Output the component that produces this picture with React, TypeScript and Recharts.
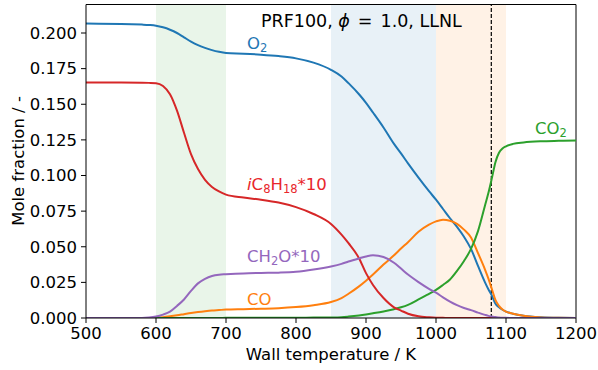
import { ComposedChart, Line, XAxis, YAxis, ReferenceArea, ReferenceLine } from "recharts"

// wall temperature grid, K
const temperature = [
  500, 550, 580, 590, 600, 610, 620, 630, 640, 650, 660, 670, 680, 690, 700, 725, 750, 775, 800, 825, 850, 865,
  875, 890, 900, 910, 925, 940, 950, 960, 975, 990, 1000, 1010, 1020, 1030, 1040, 1050, 1060, 1070, 1075, 1080,
  1085, 1090, 1095, 1100, 1110, 1125, 1150, 1175, 1200,
]

const o2 = [
  0.2066, 0.2064, 0.2059, 0.2056, 0.2051, 0.204, 0.2023, 0.2, 0.197, 0.194, 0.1915, 0.1896, 0.188, 0.1868, 0.186,
  0.1855, 0.1848, 0.1838, 0.1822, 0.1792, 0.1742, 0.1695, 0.1648, 0.157, 0.151, 0.1442, 0.1337, 0.1222, 0.1155,
  0.1085, 0.0985, 0.089, 0.083, 0.0765, 0.07, 0.064, 0.057, 0.0485, 0.0365, 0.025, 0.02, 0.0155, 0.01, 0.0075,
  0.0058, 0.0045, 0.003, 0.0016, 0.0005, 0.0001, 0,
]

const co = [
  0, 0, 0, 0, 0.0002, 0.0006, 0.0012, 0.0019, 0.0027, 0.0035, 0.0042, 0.0048, 0.0053, 0.0056, 0.0059, 0.0062,
  0.0065, 0.0069, 0.0077, 0.009, 0.0112, 0.014, 0.017, 0.0222, 0.0262, 0.0305, 0.0375, 0.044, 0.0487, 0.0532,
  0.0605, 0.0655, 0.0678, 0.069, 0.0682, 0.066, 0.062, 0.0565, 0.0455, 0.034, 0.0275, 0.02, 0.0125, 0.0085, 0.006,
  0.0045, 0.003, 0.0015, 0.0004, 0.0001, 0,
]

const co2 = [
  0, 0, 0, 0, 0, 0, 0, 0, 0, 0, 0, 0, 0, 0, 0.0001, 0.0001, 0.0001, 0.0002, 0.0002, 0.0003, 0.0004, 0.0006, 0.001,
  0.0018, 0.0025, 0.0033, 0.0046, 0.0062, 0.0075, 0.0092, 0.013, 0.017, 0.0197, 0.0232, 0.027, 0.033, 0.04,
  0.0485, 0.061, 0.079, 0.088, 0.0985, 0.1095, 0.116, 0.119, 0.1205, 0.1222, 0.1232, 0.124, 0.1243, 0.1245,
]

// iC8H18 x 10
const ic8h18 = [
  0.1652, 0.1652, 0.1651, 0.165, 0.1648, 0.1628, 0.157, 0.1455, 0.13, 0.115, 0.1045, 0.097, 0.092, 0.0888, 0.0866,
  0.0845, 0.083, 0.081, 0.0778, 0.073, 0.066, 0.0585, 0.0525, 0.042, 0.0315, 0.0232, 0.014, 0.0075, 0.0052, 0.003,
  0.0012, 0.0005, 0.0002, 0.0001, 0, 0, 0, 0, 0, 0, 0, 0, 0, 0, 0, 0, 0, 0, 0, 0, 0,
]

// CH2O x 10
const ch2o = [
  0, 0, 0, 0.0003, 0.001, 0.0024, 0.0045, 0.0085, 0.013, 0.019, 0.0243, 0.0275, 0.0295, 0.0304, 0.0307, 0.0313,
  0.0316, 0.0318, 0.0324, 0.034, 0.0362, 0.038, 0.0396, 0.0418, 0.0432, 0.044, 0.0428, 0.0388, 0.0347, 0.0305,
  0.0252, 0.0205, 0.0178, 0.0145, 0.0115, 0.009, 0.007, 0.0055, 0.0038, 0.0022, 0.0015, 0.001, 0.0007, 0.0004,
  0.0002, 0.0001, 0, 0, 0, 0, 0,
]

const xTicks = [500, 600, 700, 800, 900, 1000, 1100, 1200]
const yTicks = [0, 0.025, 0.05, 0.075, 0.1, 0.125, 0.15, 0.175, 0.2]

const data = temperature.map((T, i) => ({
  T,
  o2: o2[i],
  co: co[i],
  co2: co2[i],
  ic8h18: ic8h18[i],
  ch2o: ch2o[i],
}))

const font = "DejaVu Sans"
const fs = 16.5
const sub = 11.5

export default function App() {
  return (
    <div style={{ position: "absolute", left: 0, top: 0, width: 598, height: 370, fontFamily: font }}>
      <ComposedChart width={598} height={370} data={data} margin={{ top: 4.5, right: 22, bottom: 0, left: 0 }}>
        <ReferenceArea x1={600} x2={700} fill="#2ca02c" fillOpacity={0.1} stroke="none" />
        <ReferenceArea x1={850} x2={1000} fill="#1f77b4" fillOpacity={0.1} stroke="none" />
        <ReferenceArea x1={1000} x2={1100} fill="#ff7f0e" fillOpacity={0.1} stroke="none" />
        <XAxis
          dataKey="T"
          type="number"
          domain={[500, 1200]}
          ticks={xTicks}
          height={52}
          tickSize={5}
          tickMargin={4}
          stroke="#000"
          tick={{ fill: "#000", fontSize: fs, fontFamily: font }}
          allowDataOverflow
        />
        <YAxis
          type="number"
          domain={[0, 0.22]}
          ticks={yTicks}
          width={86}
          tickSize={5}
          tickMargin={4}
          stroke="#000"
          tick={{ fill: "#000", fontSize: fs, fontFamily: font }}
          tickFormatter={(v: number) => v.toFixed(3)}
          allowDataOverflow
        />
        <ReferenceLine y={0.22} stroke="#000" />
        <ReferenceLine x={1200} stroke="#000" />
        <ReferenceLine x={1079} stroke="#000" strokeWidth={1.2} strokeDasharray="4 2" />
        <Line dataKey="o2" type="monotone" stroke="#1f77b4" strokeWidth={2} dot={false} isAnimationActive={false} />
        <Line dataKey="co" type="monotone" stroke="#ff7f0e" strokeWidth={2} dot={false} isAnimationActive={false} />
        <Line dataKey="co2" type="monotone" stroke="#2ca02c" strokeWidth={2} dot={false} isAnimationActive={false} />
        <Line dataKey="ic8h18" type="monotone" stroke="#d62728" strokeWidth={2} dot={false} isAnimationActive={false} />
        <Line dataKey="ch2o" type="monotone" stroke="#9467bd" strokeWidth={2} dot={false} isAnimationActive={false} />
      </ComposedChart>
      <svg
        width={598}
        height={370}
        style={{ position: "absolute", left: 0, top: 0, pointerEvents: "none" }}
        fontFamily={font}
        fontSize={fs}
      >
        <text x={261} y={26.5} fill="#000" fontSize={17.5}>
          PRF100, <tspan fontStyle="italic">ϕ</tspan>
          <tspan dx={8}>=</tspan>
          <tspan dx={8}>1.0, LLNL</tspan>
        </text>
        <text x={247} y={48.5} fill="#1f77b4">
          O<tspan fontSize={sub} dy={3}>2</tspan>
        </text>
        <text x={535} y={133.5} fill="#2ca02c">
          CO<tspan fontSize={sub} dy={3}>2</tspan>
        </text>
        <text x={247} y={190} fill="#e8262b">
          <tspan fontStyle="italic">i</tspan>C<tspan fontSize={sub} dy={3}>8</tspan>
          <tspan dy={-3}>H</tspan>
          <tspan fontSize={sub} dy={3}>18</tspan>
          <tspan dy={-3}>*10</tspan>
        </text>
        <text x={247} y={262} fill="#9467bd">
          CH<tspan fontSize={sub} dy={3}>2</tspan>
          <tspan dy={-3}>O*10</tspan>
        </text>
        <text x={247} y={305} fill="#ff7f0e">
          CO
        </text>
        <text x={331} y={360} textAnchor="middle" fill="#000">
          Wall temperature / K
        </text>
        <text x={24} y={161} textAnchor="middle" fill="#000" transform="rotate(-90 24 161)">
          Mole fraction / -
        </text>
      </svg>
    </div>
  )
}
